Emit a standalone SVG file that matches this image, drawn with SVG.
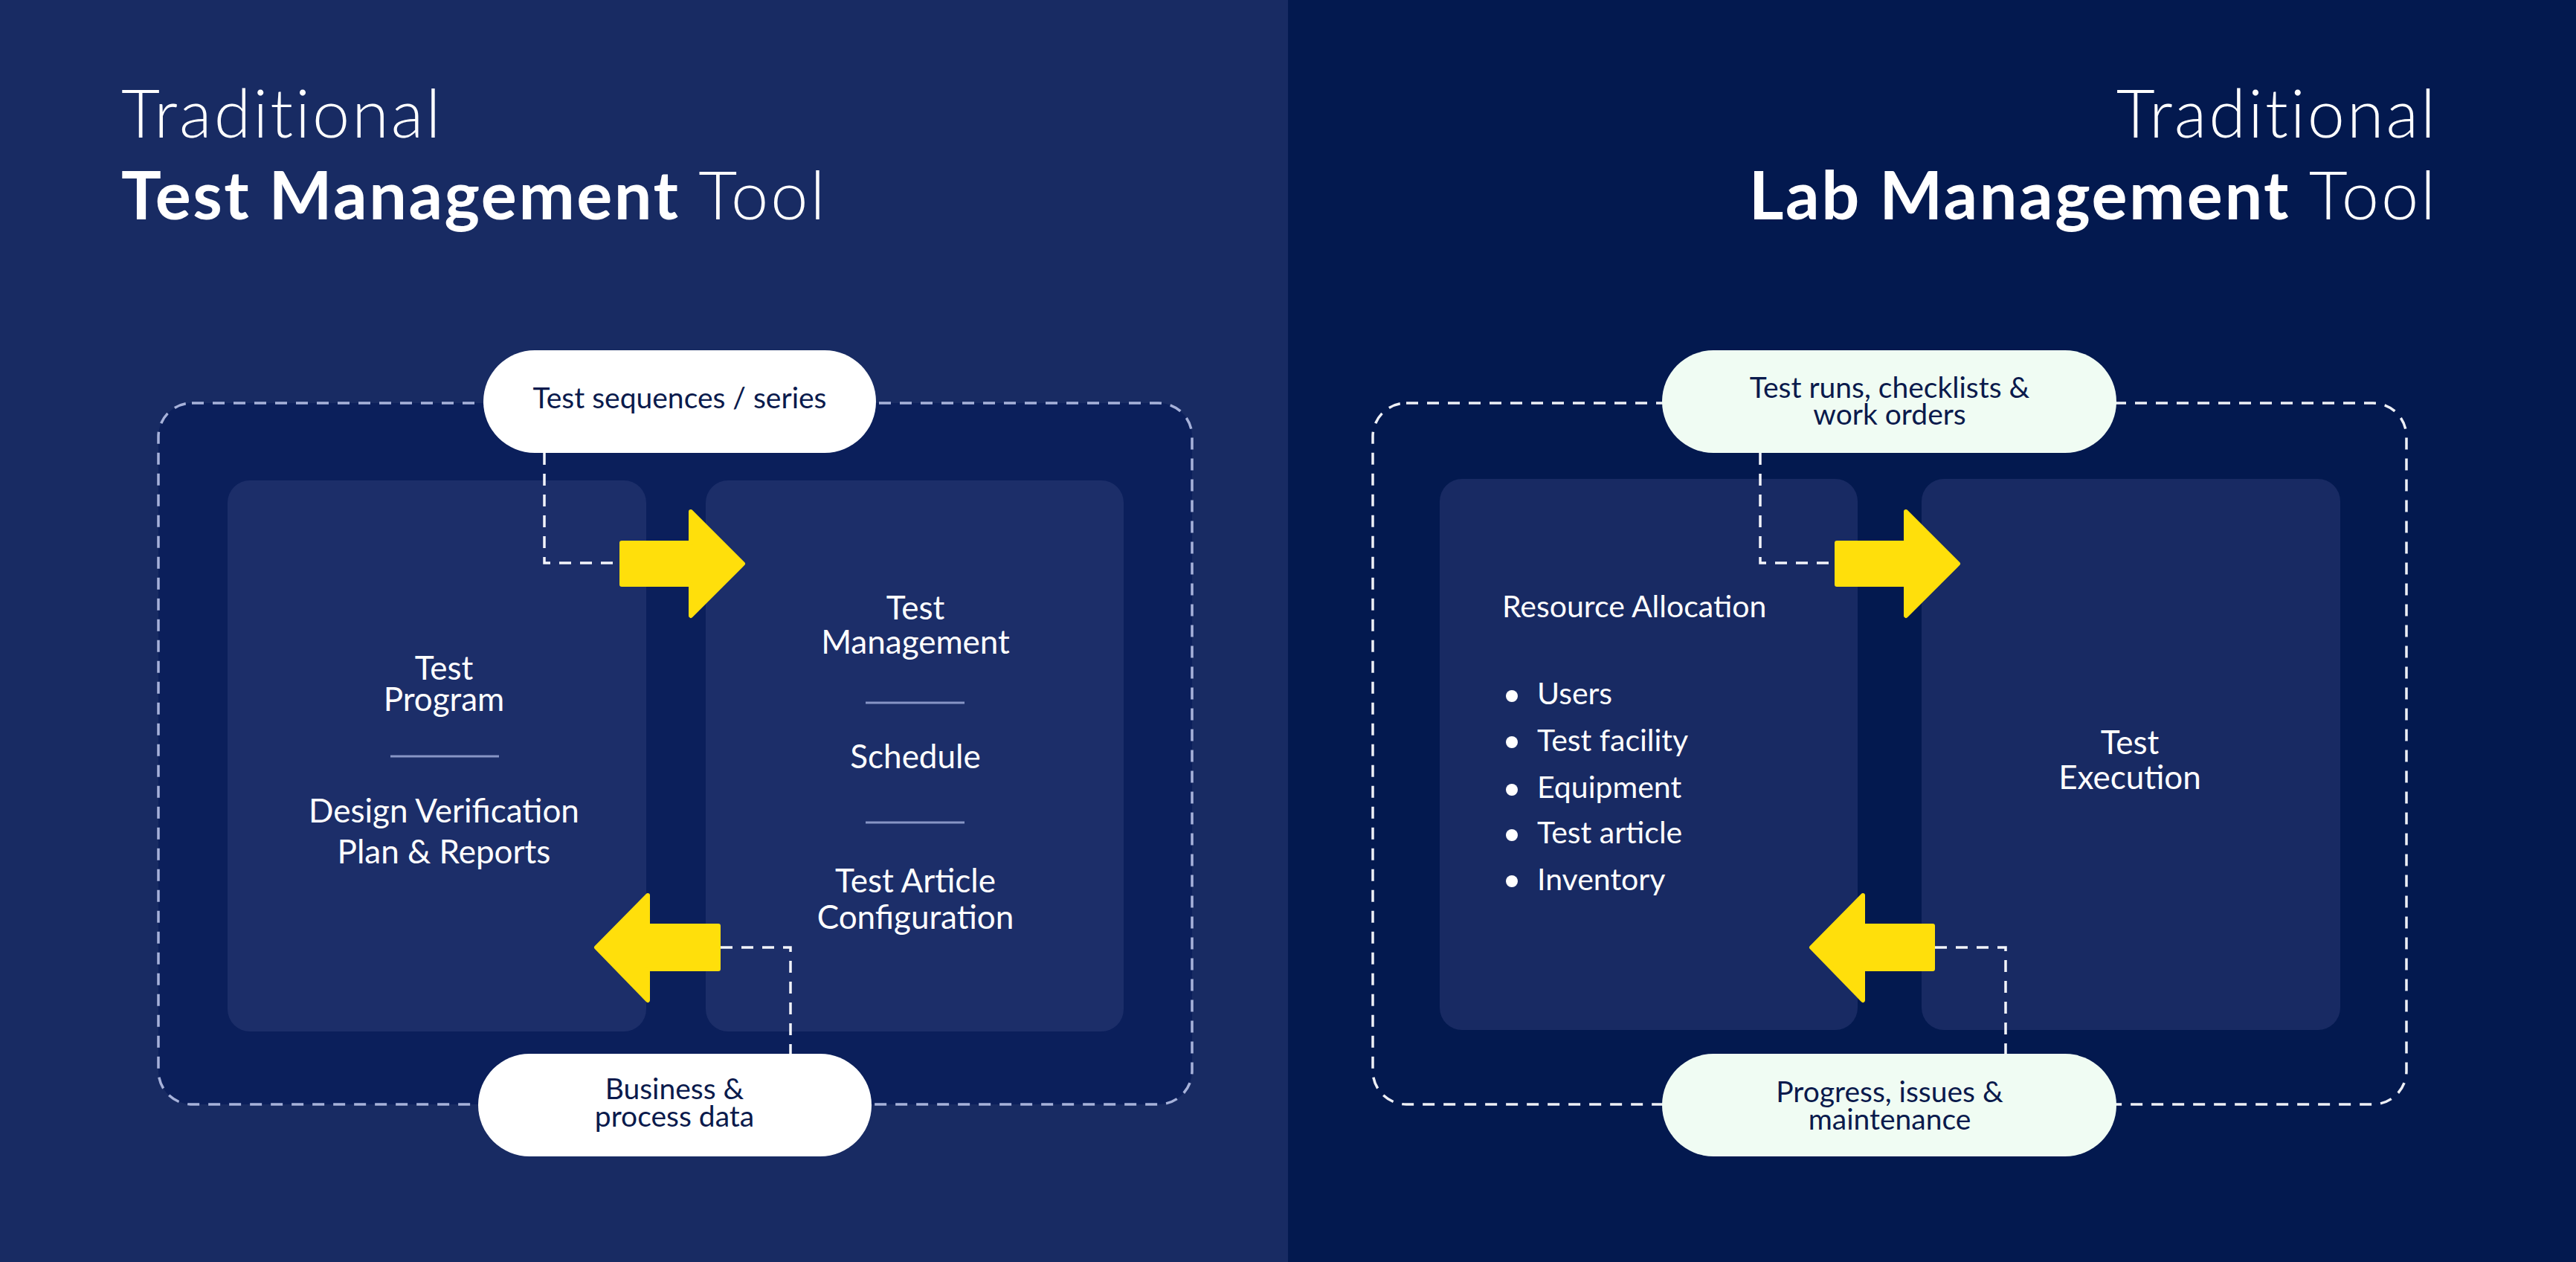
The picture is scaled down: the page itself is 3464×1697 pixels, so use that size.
<svg xmlns="http://www.w3.org/2000/svg" width="3464" height="1697" viewBox="0 0 3464 1697">
<style>
.t-light{font-family:Lato,"Liberation Sans",sans-serif;font-weight:300;font-size:90px;fill:#ffffff;letter-spacing:3px}
.t-bold{font-family:Lato,"Liberation Sans",sans-serif;font-weight:700;font-size:90px;fill:#ffffff;letter-spacing:2.5px}
.pt{font-family:Lato,"Liberation Sans",sans-serif;font-size:44px;fill:#ffffff;text-anchor:middle}
.bt{font-family:Lato,"Liberation Sans",sans-serif;font-size:41px;fill:#ffffff}
.pill-t{font-family:Lato,"Liberation Sans",sans-serif;font-size:39px;fill:#0a1a4c;text-anchor:middle}
.panel-l{fill:#1c2e69}
.panel-r{fill:#182a63}
.sep{stroke:#8795c6;stroke-width:3}
.conn{fill:none;stroke:#f2f4fa;stroke-width:3.5;stroke-dasharray:16 12}
.arrow{fill:#ffdf0b;stroke:#ffdf0b;stroke-width:6;stroke-linejoin:round}
</style>
<rect x="0" y="0" width="1732" height="1697" fill="#182b63"/>
<rect x="1732" y="0" width="1732" height="1697" fill="#03194f"/>

<g id="title-left">
<text class="t-light" x="163" y="185">Traditional</text>
<text x="163" y="295"><tspan class="t-bold">Test Management</tspan><tspan class="t-light"> Tool</tspan></text>
</g>
<g id="title-right">
<text class="t-light" x="3278" y="185" text-anchor="end">Traditional</text>
<text x="3278" y="295" text-anchor="end"><tspan class="t-bold">Lab Management</tspan><tspan class="t-light"> Tool</tspan></text>
</g>

<g id="frame-left">
<rect x="213" y="542" width="1390" height="943" rx="45" fill="#0b1f5b" stroke="#a7b2da" stroke-width="3.5" stroke-dasharray="16 12"/>
</g>
<g id="frame-right">
<rect x="1846" y="542" width="1390" height="943" rx="45" fill="#03194f" stroke="#eef0f6" stroke-width="3.5" stroke-dasharray="16 12"/>
</g>

<g id="node-test-program">
<rect class="panel-l" x="306" y="646" width="563" height="741" rx="30"/>
<text class="pt" x="597" y="914">Test</text>
<text class="pt" x="597" y="956">Program</text>
<line class="sep" x1="525" y1="1017" x2="671" y2="1017"/>
<text class="pt" x="597" y="1106">Design Verification</text>
<text class="pt" x="597" y="1161">Plan &amp; Reports</text>
</g>

<g id="node-test-management">
<rect class="panel-l" x="949" y="646" width="562" height="741" rx="30"/>
<text class="pt" x="1231" y="833">Test</text>
<text class="pt" x="1231" y="879">Management</text>
<line class="sep" x1="1164" y1="945" x2="1297" y2="945"/>
<text class="pt" x="1231" y="1033">Schedule</text>
<line class="sep" x1="1164" y1="1106" x2="1297" y2="1106"/>
<text class="pt" x="1231" y="1200">Test Article</text>
<text class="pt" x="1231" y="1249">Configuration</text>
</g>

<g id="node-resource-allocation">
<rect class="panel-r" x="1936" y="644" width="562" height="741" rx="30"/>
<text class="bt" x="2020" y="830" font-size="44">Resource Allocation</text>
<circle cx="2033" cy="936" r="8" fill="#ffffff"/>
<text class="bt" x="2067" y="947">Users</text>
<circle cx="2033" cy="998" r="8" fill="#ffffff"/>
<text class="bt" x="2067" y="1010">Test facility</text>
<circle cx="2033" cy="1062" r="8" fill="#ffffff"/>
<text class="bt" x="2067" y="1073">Equipment</text>
<circle cx="2033" cy="1123" r="8" fill="#ffffff"/>
<text class="bt" x="2067" y="1134">Test article</text>
<circle cx="2033" cy="1185" r="8" fill="#ffffff"/>
<text class="bt" x="2067" y="1197">Inventory</text>
</g>

<g id="node-test-execution">
<rect class="panel-r" x="2584" y="644" width="563" height="741" rx="30"/>
<text class="pt" x="2864" y="1014">Test</text>
<text class="pt" x="2864" y="1061">Execution</text>
</g>

<g id="connectors">
<path class="conn" d="M732 609 V757 H833"/>
<path class="conn" d="M969 1274 H1063 V1417"/>
<path class="conn" d="M2367 609 V757 H2467"/>
<path class="conn" d="M2602 1274 H2697 V1417"/>
<path class="arrow" d="M836 730 H929 V688 L999 758 L929 828 V786 H836 Z"/>
<path class="arrow" d="M966 1245 H871 V1204 L802 1274 L871 1345 V1303 H966 Z"/>
<path class="arrow" d="M2470 730 H2563 V688 L2633 758 L2563 828 V786 H2470 Z"/>
<path class="arrow" d="M2599 1245 H2505 V1204 L2436 1274 L2505 1345 V1303 H2599 Z"/>
</g>

<g id="pill-test-sequences">
<rect x="650" y="471" width="528" height="138" rx="69" fill="#ffffff"/>
<text class="pill-t" x="914" y="549" font-size="40">Test sequences / series</text>
</g>
<g id="pill-business-data">
<rect x="643" y="1417" width="529" height="138" rx="69" fill="#ffffff"/>
<text class="pill-t" x="907" y="1478">Business &amp;</text>
<text class="pill-t" x="907" y="1515">process data</text>
</g>
<g id="pill-test-runs">
<rect x="2235" y="471" width="611" height="138" rx="69" fill="#f0fcf3"/>
<text class="pill-t" x="2541" y="535">Test runs, checklists &amp;</text>
<text class="pill-t" x="2541" y="571">work orders</text>
</g>
<g id="pill-progress">
<rect x="2235" y="1417" width="611" height="138" rx="69" fill="#f0fcf3"/>
<text class="pill-t" x="2541" y="1482">Progress, issues &amp;</text>
<text class="pill-t" x="2541" y="1519">maintenance</text>
</g>
</svg>
